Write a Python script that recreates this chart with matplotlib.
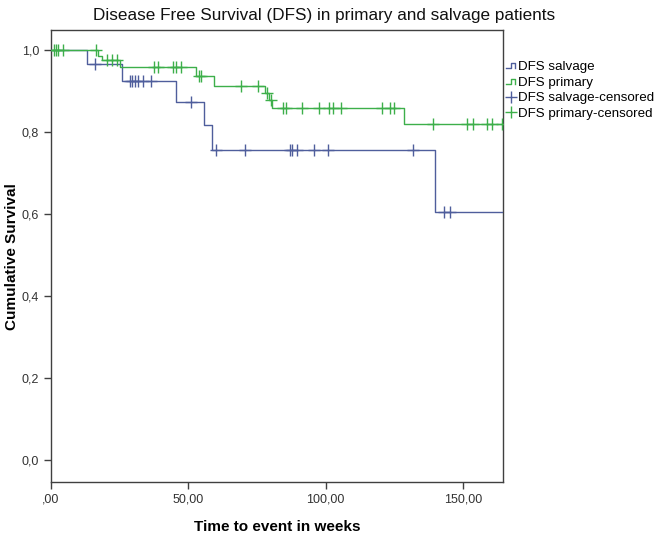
import numpy as np
import matplotlib.pyplot as plt
from matplotlib.lines import Line2D
from matplotlib.legend_handler import HandlerBase
from matplotlib.ticker import FuncFormatter

plt.rcParams['font.family'] = ['Liberation Sans', 'DejaVu Sans']

BLUE = "#4f5e9c"
GREEN = "#3daf4a"

# Kaplan-Meier steps (weeks, cumulative survival)
salvage_t = [0, 13.1, 25.7, 45.5, 55.8, 58.7, 139.6]
salvage_s = [1.0, 0.966, 0.925, 0.874, 0.817, 0.756, 0.606]
salvage_censor = [16.1, 28.6, 29.6, 30.5, 31.8, 33.5, 36.3, 51.0, 60.1, 70.8,
                  87.0, 87.6, 89.5, 95.6, 100.7, 131.9, 143.0, 145.3]

primary_t = [0, 17.0, 18.5, 25.3, 52.8, 59.5, 78.0, 79.3, 80.5, 128.5]
primary_s = [1.0, 0.987, 0.975, 0.960, 0.937, 0.912, 0.895, 0.878, 0.860, 0.821]
primary_censor = [1.2, 1.9, 2.7, 4.4, 16.5, 20.5, 22.3, 24.1, 37.5, 38.8, 44.3,
                  45.5, 47.3, 54.0, 54.6, 69.3, 75.4, 78.6, 79.9, 84.6, 85.4,
                  91.3, 97.7, 101.1, 102.6, 105.4, 120.6, 123.3, 125.0, 139.0,
                  151.4, 153.4, 158.5, 160.4, 164.0]

t_end = 164.5
x_ticks = [0, 50, 100, 150]
y_ticks = [0.0, 0.2, 0.4, 0.6, 0.8, 1.0]


def level_at(times, surv, t):
    i = np.searchsorted(times, t, side="right") - 1
    return surv[i]


class StepHandler(HandlerBase):
    def create_artists(self, legend, orig_handle, xdescent, ydescent,
                       width, height, fontsize, trans):
        lo, hi = height * 0.15, height * 0.75
        xs = [0, width * 0.45, width * 0.45, width * 0.9, width * 0.9]
        ys = [lo, lo, hi, hi, lo]
        ln = Line2D(xs, ys, color=orig_handle.get_color(), lw=1, transform=trans)
        return [ln]


fig = plt.figure(figsize=(6.61, 5.36), dpi=100)
# plot box: x 51..503, y 30..482 px
ax = fig.add_axes([0.077, 0.1007, 0.684, 0.843])

curves = {}
for name, tt, ss, cens, col in [("salvage", salvage_t, salvage_s, salvage_censor, BLUE),
                                ("primary", primary_t, primary_s, primary_censor, GREEN)]:
    xs = list(tt) + [t_end]
    ys = list(ss) + [ss[-1]]
    line, = ax.step(xs, ys, where="post", color=col, lw=1, zorder=3)
    cy = [level_at(tt, ss, c) for c in cens]
    mk, = ax.plot(cens, cy, ls="none", marker="+", ms=8, mew=1, color=col, zorder=4)
    curves[name] = (line, mk)

ax.set_xlim(0, t_end)
ax.set_ylim(-0.054, 1.049)
ax.set_xticks(x_ticks)
ax.set_yticks(y_ticks)
ax.xaxis.set_major_formatter(FuncFormatter(
    lambda v, p: ",00" if v == 0 else f"{v:.2f}".replace(".", ",")))
ax.yaxis.set_major_formatter(FuncFormatter(lambda v, p: f"{v:.1f}".replace(".", ",")))
ax.tick_params(direction="out", length=5, width=1, color="#404040",
               labelsize=9, labelcolor="#333333", top=False, right=False)
for sp in ax.spines.values():
    sp.set_color("#404040")
    sp.set_linewidth(1)

ax.set_xlabel("Time to event in weeks", fontsize=11, fontweight="bold", labelpad=10)
ax.set_ylabel("Cumulative Survival", fontsize=11, fontweight="bold")
ax.yaxis.set_label_coords(-0.07, 0.5)
fig.text(0.49, 0.972, "Disease Free Survival (DFS) in primary and salvage patients",
         ha="center", va="center", fontsize=12.3, color="#111111")

handles = [curves["salvage"][0], curves["primary"][0],
           curves["salvage"][1], curves["primary"][1]]
labels = ["DFS salvage", "DFS primary", "DFS salvage-censored", "DFS primary-censored"]
fig.legend(handles, labels, loc="upper left", bbox_to_anchor=(0.757, 0.897),
           frameon=False, fontsize=9.6, handlelength=0.8, handletextpad=0.1,
           labelspacing=0.25, borderaxespad=0,
           handler_map={curves["salvage"][0]: StepHandler(),
                        curves["primary"][0]: StepHandler()})

fig.savefig("out.png", dpi=100)
